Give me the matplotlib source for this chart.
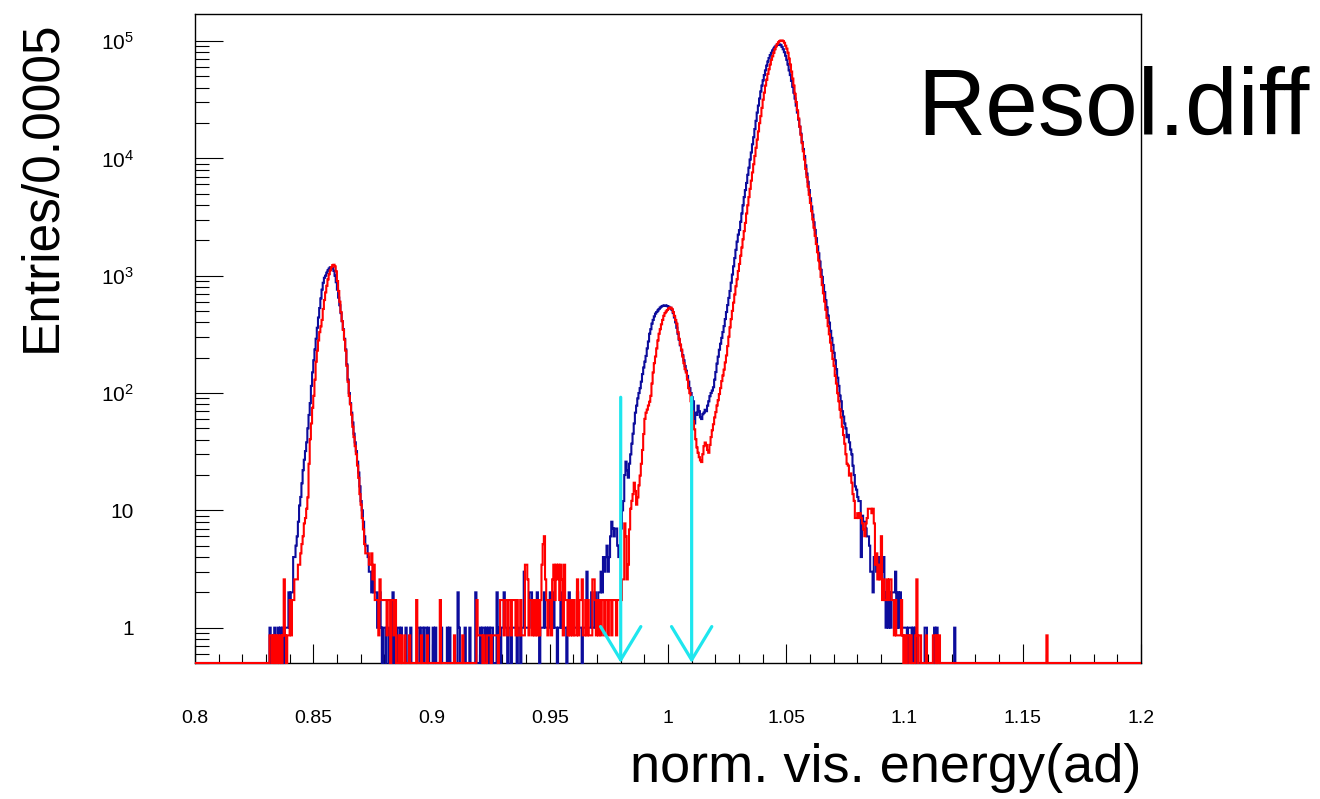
import numpy as np
import matplotlib
matplotlib.use("Agg")
import matplotlib.pyplot as plt
from matplotlib.ticker import FixedLocator, FixedFormatter, NullFormatter

# ---------------- data ----------------
bin_width = 0.0005
x_min, x_max = 0.8, 1.2
y_min, y_max = 0.5, 1.7e5
data_start = 0.830   # lower edge of first listed bin

blue_counts = [
    0,0,0,1,0,0,0,1,0,0, 1,0,1,0,1,0,1,1,1,2,                      # 0.830
    1,2,2,4,4,5,6,8,11,13, 17,22,27,32,38,50,65,82,115,150,          # 0.840
    190,235,290,360,440,530,640,760,870,960, 1000,1060,1110,1150,1180,1180,1160,1100,1000,880,  # 0.850
    760,650,560,480,410,350,290,235,175,130, 100,82,68,56,45,38,32,26,21,16,  # 0.860
    12,10,8,6,5,5,4,3,3,2, 3,2,2,2,1,1,2,1,0,1,                     # 0.870
    1,0,1,1,0,0,0,2,0,1, 0,1,1,0,1,0,0,0,1,0,                       # 0.880
    0,0,1,0,0,0,0,0,1,1, 0,1,1,0,1,1,0,1,0,0,                       # 0.890
    0,1,0,1,0,0,0,0,1,0, 0,0,0,1,0,1,0,0,0,0,                       # 0.900
    0,0,2,1,0,0,0,0,1,0, 0,0,1,0,0,0,0,2,0,0,                       # 0.910
    0,1,0,1,1,0,1,0,1,0, 1,1,0,0,0,2,0,1,0,1,                       # 0.920
    1,2,1,1,0,1,1,0,1,1, 1,1,0,1,1,0,1,1,3,1,                       # 0.930
    1,1,1,2,2,1,1,1,1,2, 1,0,1,1,1,2,1,1,1,1,                       # 0.940
    2,1,1,2,1,1,0,1,1,2, 1,1,1,1,0,1,2,1,1,1,                       # 0.950
    1,1,1,2,1,1,1,0,1,1, 1,3,1,1,1,2,1,1,2,1,                       # 0.960
    1,2,2,3,2,4,3,4,5,3, 4,6,8,7,6,7,7,5,4,5,                       # 0.970
    7,10,12,20,26,22,19,25,30,37, 45,55,68,78,90,100,110,125,145,165,  # 0.980
    185,207,240,275,320,350,390,420,450,475, 490,505,520,535,545,552,556,558,556,550,  # 0.990
    545,535,525,510,480,440,400,360,320,285, 255,230,210,190,170,155,140,125,110,100,  # 1.000
    92,85,55,68,65,78,70,62,60,66, 68,72,70,78,85,94,100,105,112,130,  # 1.010
    151,178,204,234,263,295,331,372,427,490, 562,646,741,871,1023,1202,1413,1660,1950,2239,  # 1.020
    2450,2880,3390,3980,4680,5370,6170,7240,8320,9770,
    11220,13180,15140,17780,20890,24550,28180,32360,37150,41690,     # 1.030
    46240,51290,56230,61660,66830,71610,75860,79430,83180,86100,
    89130,91200,92900,93760,93760,92260,89130,85110,80350,74990,     # 1.040
    69183,63096,56234,51286,45709,40738,36308,32359,28184,24547,
    21380,18621,16218,13804,12023,10471,8710,7413,6310,5370,         # 1.050
    4571,3890,3311,2851,2455,2089,1778,1549,1318,1122, 977,832,724,617,537,457,398,339,295,257,  # 1.060
    220,190,160,135,115,95,85,70,63,55, 50,42,44,38,33,30,24,20,16,15,  # 1.070
    13,12,12,4,9,8,8,7,6,6, 5,3,3,2,4,4,3,4,3,4,                    # 1.080
    4,3,4,2,1,2,1,2,1,2, 2,2,3,1,2,1,2,1,1,1,                       # 1.090
    1,1,0,1,1,1,0,1,0,1, 0,0,0,0,0,0,0,1,1,0,                       # 1.100
    0,0,0,0,0,1,0,1,0,0, 0,0,0,0,0,0,0,0,0,0,                       # 1.110
    0,0,1,0,0,                                                       # 1.120
]

red_counts = [
    0,0,0,1,1,0,1,0,1,0, 1,0,1,0,1,3,1,0,1,1,                       # 0.830
    2,1,2,2,3,3,3,4,4,5, 6,7,9,10,12,15,29,47,64,87,                 # 0.840
    110,151,215,267,326,384,430,488,605,721, 837,953,1081,1198,1291,1372,1430,1442,1395,1267,  # 0.850
    1047,860,698,570,477,401,331,267,198,145, 110,93,76,60,49,41,35,28,22,16,  # 0.860
    13,10,8,6,5,5,5,4,4,5, 3,4,2,2,2,1,3,2,2,2,                     # 0.870
    2,2,1,2,2,0,2,2,1,2, 0,0,1,0,1,0,0,1,0,0,                       # 0.880
    0,1,0,0,0,0,0,2,0,0, 0,1,0,0,0,0,1,0,0,0,                       # 0.890
    0,0,0,0,0,0,0,2,0,0, 0,0,0,0,0,0,0,0,0,1,                       # 0.900
    0,0,0,0,0,0,1,0,0,0, 0,0,0,0,0,0,0,0,2,1,                       # 0.910
    1,1,1,0,1,0,0,1,1,1, 0,1,1,1,1,1,0,1,2,2,                       # 0.920
    2,1,2,2,1,2,2,1,2,2, 2,1,2,1,1,2,1,1,1,4,                       # 0.930
    4,3,1,2,2,1,2,1,2,1, 2,1,2,4,6,7,3,2,1,2,                       # 0.940
    2,1,3,4,2,4,3,4,2,4, 3,1,4,2,2,1,2,1,2,1,                       # 0.950
    2,1,1,3,1,2,2,3,1,1, 2,1,2,1,1,1,3,3,2,1,                       # 0.960
    2,1,2,1,2,2,1,2,2,1, 2,2,1,2,2,2,1,2,2,2,                       # 0.970
    2,3,3,9,7,3,4,8,12,14, 16,20,17,13,15,19,23,29,38,52,            # 0.980
    70,79,84,91,98,110,140,174,209,238, 279,326,372,407,448,488,529,558,576,593,  # 0.990
    610,619,622,605,570,529,488,453,384,337, 302,273,238,209,186,174,151,128,116,99,  # 1.000
    81,67,57,47,40,36,33,31,30,35, 41,44,42,38,36,42,49,56,63,72,    # 1.010
    80,91,101,114,128,147,164,184,212,243, 292,351,422,496,583,685,804,945,1085,1275,  # 1.020
    1464,1720,2021,2375,2789,3277,3940,4630,5439,6391,
    7509,8822,10363,12175,14305,16807,19748,23202,26640,31300,       # 1.030
    36770,42220,48480,54390,61030,66920,73380,80450,86200,92370,
    98970,104830,109770,113640,116290,117640,117640,116290,112340,106050,  # 1.040
    100120,92370,82320,73380,63910,55660,48480,41260,35120,29890,
    25440,21650,18430,15680,13350,11360,9452,8045,6691,5695,         # 1.050
    4848,4126,3512,2989,2544,2165,1843,1568,1335,1136, 967,823,701,596,508,432,368,313,266,227,  # 1.060
    198,163,140,116,99,84,72,60,51,43, 35,29,28,23,24,20,16,14,10,10,  # 1.070
    11,10,11,10,9,8,7,9,10,12, 12,12,11,12,9,4,5,3,4,3,             # 1.080
    7,2,3,2,2,3,2,3,3,2, 2,1,2,1,1,1,1,2,1,0,                       # 1.090
    1,0,1,1,0,1,0,0,0,1, 3,0,1,1,0,0,0,0,1,0,                       # 1.100
    0,0,0,0,1,1,0,1,0,1, 0,0,0,0,0,0,0,0,0,0,                       # 1.110
    0,0,0,0,0,                                                       # 1.120
]
red_weight = 0.86          # red histogram is scaled
red_extra_x = [1.160]      # isolated red entry
red_extra_counts = [1]

arrow_x = [0.98, 1.01]
arrow_top = 92

x_ticks = [0.8, 0.85, 0.9, 0.95, 1.0, 1.05, 1.1, 1.15, 1.2]
x_tick_labels = ["0.8", "0.85", "0.9", "0.95", "1", "1.05", "1.1", "1.15", "1.2"]
y_ticks = [1, 10, 100, 1000, 10000, 100000]
y_tick_labels = ["1", "10", r"$\mathregular{10^{2}}$", r"$\mathregular{10^{3}}$",
                 r"$\mathregular{10^{4}}$", r"$\mathregular{10^{5}}$"]

x_label = "norm. vis. energy(ad)"
y_label = "Entries/0.0005"
tag_text = "Resol.diff"

# ---------------- style ----------------
plt.rcParams['font.family'] = ['Liberation Sans', 'DejaVu Sans']
plt.rcParams['mathtext.fontset'] = 'custom'
plt.rcParams['mathtext.rm'] = 'Liberation Sans'

W, H = 1320, 799
fig = plt.figure(figsize=(W / 100, H / 100), dpi=100)
ax = fig.add_axes([195 / W, 1 - 663 / H, 946 / W, 649 / H])

n_bins = int(round((x_max - x_min) / bin_width))
edges = x_min + bin_width * np.arange(n_bins + 1)

blue = np.zeros(n_bins)
i0 = int(round((data_start - x_min) / bin_width))
blue[i0:i0 + len(blue_counts)] = blue_counts

red = np.zeros(n_bins)
red[i0:i0 + len(red_counts)] = red_counts
for xv, c in zip(red_extra_x, red_extra_counts):
    red[int(round((xv - x_min) / bin_width))] += c
red = red * red_weight

blue_plot = np.where(blue > 0, blue, y_min)
red_plot = np.where(red > 0, red, y_min)

ax.stairs(blue_plot, edges, baseline=None, color='#0c0c9c', lw=1.5, zorder=3, clip_on=False)
ax.stairs(red_plot, edges, baseline=None, color='#ff0000', lw=1.5, zorder=4, clip_on=False)

ax.set_yscale('log')
ax.set_xlim(x_min, x_max)
ax.set_ylim(y_min, y_max)

# arrows
cyan = '#1ee6ee'
for xa in arrow_x:
    ax.annotate('', xy=(xa, y_min), xytext=(xa, arrow_top),
                arrowprops=dict(arrowstyle='->,head_length=2.4,head_width=1.45',
                                color=cyan, lw=2.3, shrinkA=0, shrinkB=0,
                                mutation_scale=10),
                zorder=6, annotation_clip=False)

# ticks
ax.xaxis.set_major_locator(FixedLocator(x_ticks))
ax.xaxis.set_major_formatter(FixedFormatter(x_tick_labels))
ax.xaxis.set_minor_locator(FixedLocator(np.round(np.arange(0.8, 1.2001, 0.01), 4)))
ax.yaxis.set_major_locator(FixedLocator(y_ticks))
ax.yaxis.set_major_formatter(FixedFormatter(y_tick_labels))
minor_y = [m * 10.0 ** e for e in range(-1, 6) for m in range(2, 10)]
minor_y = [v for v in minor_y if y_min <= v <= y_max]
ax.yaxis.set_minor_locator(FixedLocator(minor_y))
ax.yaxis.set_minor_formatter(NullFormatter())

ax.tick_params(axis='x', which='major', direction='in', length=13.7, width=0.8,
               pad=34, labelsize=14, top=False)
ax.tick_params(axis='x', which='minor', direction='in', length=6.5, width=0.8, top=False)
ax.tick_params(axis='y', which='major', direction='in', length=20, width=0.8,
               pad=44, labelsize=15, right=False)
ax.tick_params(axis='y', which='minor', direction='in', length=10, width=0.8, right=False)
for lab in ax.get_yticklabels():
    lab.set_horizontalalignment('right')

for sp in ax.spines.values():
    sp.set_linewidth(1.0)
    sp.set_color('black')

# texts
fig.text(42 / W, 1 - 20 / H, y_label, rotation=90, ha='center', va='top', fontsize=37)
fig.text(1141 / W, 1 - 782 / H, x_label, ha='right', va='baseline', fontsize=39)
fig.text(917 / W, 1 - 135 / H, tag_text, ha='left', va='baseline', fontsize=68)

fig.savefig('out.png', dpi=100)
